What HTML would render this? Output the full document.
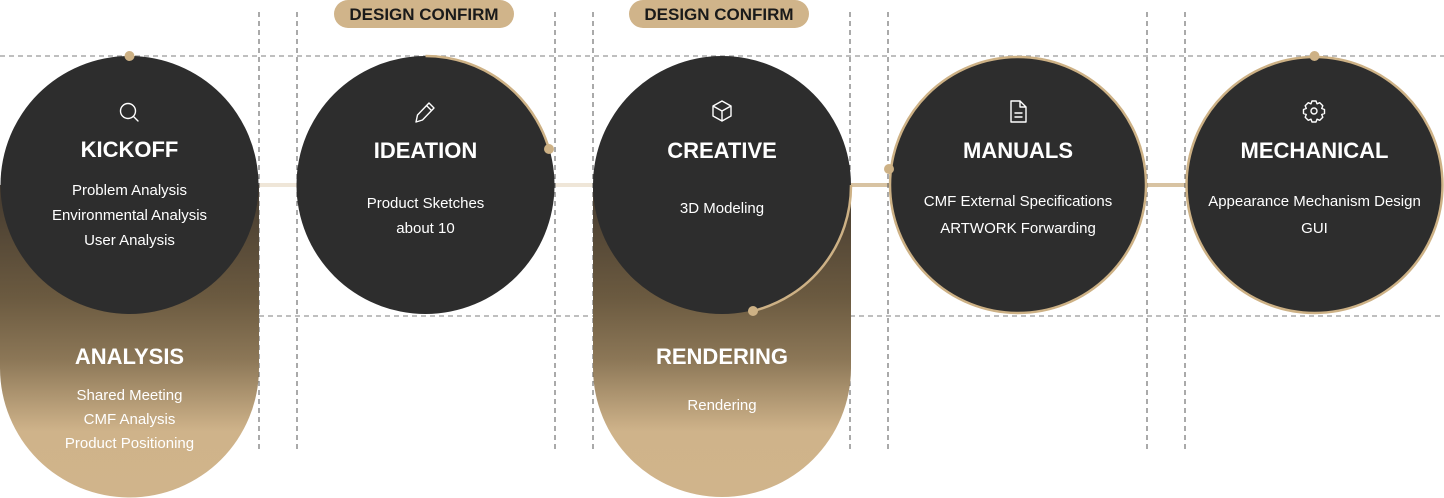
<!DOCTYPE html>
<html><head><meta charset="utf-8"><style>
html,body{margin:0;padding:0;background:#fff;}
svg{display:block;font-family:"Liberation Sans",sans-serif;}
.t{fill:#fff;font-weight:bold;font-size:22px;text-anchor:middle;}
.s{fill:#fff;font-size:15px;text-anchor:middle;}
.p{fill:#1a1a1a;font-size:17px;font-weight:bold;text-anchor:middle;}
.ic{fill:none;stroke:#fff;stroke-width:1.4;stroke-linejoin:round;stroke-linecap:round;}
</style></head><body>
<svg width="1444" height="498" viewBox="0 0 1444 498">
<defs>
<linearGradient id="g" gradientUnits="userSpaceOnUse" x1="0" y1="185" x2="0" y2="497">
<stop offset="0" stop-color="#443a2f"/>
<stop offset="0.36" stop-color="#6b5a40"/>
<stop offset="0.56" stop-color="#8c7757"/>
<stop offset="0.79" stop-color="#cfb38a"/>
<stop offset="1" stop-color="#d0b48b"/>
</linearGradient>
</defs>
<line x1="259" y1="185" x2="593" y2="185" stroke="#efe6d8" stroke-width="4"/>
<line x1="850" y1="185" x2="1187" y2="185" stroke="#d8c3a2" stroke-width="4"/>
<g stroke="#999" stroke-width="1.3" stroke-dasharray="5,4">
<line x1="0" y1="56" x2="1444" y2="56"/>
<line x1="259" y1="316" x2="593" y2="316"/>
<line x1="850" y1="316" x2="1444" y2="316"/>
</g>
<g stroke="#555" stroke-width="1" stroke-dasharray="5,4">
<line x1="259" y1="12" x2="259" y2="452"/><line x1="297" y1="12" x2="297" y2="452"/>
<line x1="555" y1="12" x2="555" y2="452"/><line x1="593" y1="12" x2="593" y2="452"/>
<line x1="850" y1="12" x2="850" y2="452"/><line x1="888" y1="12" x2="888" y2="452"/>
<line x1="1147" y1="12" x2="1147" y2="452"/><line x1="1185" y1="12" x2="1185" y2="452"/>
</g>
<path d="M0 185 H259 V368 A129.5 129.5 0 0 1 0 368 Z" fill="url(#g)"/>
<path d="M593 185 H851 V368 A129 129 0 0 1 593 368 Z" fill="url(#g)"/>
<circle cx="129.5" cy="185" r="129" fill="#2d2d2d"/>
<circle cx="425.5" cy="185" r="129" fill="#2d2d2d"/>
<circle cx="722" cy="185" r="129" fill="#2d2d2d"/>
<circle cx="1018" cy="185" r="128" fill="#2d2d2d" stroke="#cdb185" stroke-width="2.5"/>
<circle cx="1314.5" cy="185" r="128" fill="#2d2d2d" stroke="#cdb185" stroke-width="2.5"/>
<path d="M425.5 56 A129 129 0 0 1 549 149" fill="none" stroke="#cdb185" stroke-width="2.5"/>
<path d="M851 185 A129 129 0 0 1 753 311" fill="none" stroke="#cdb185" stroke-width="2.5"/>
<g fill="#cdb185">
<circle cx="129.5" cy="56" r="5"/><circle cx="549" cy="149" r="5"/>
<circle cx="753" cy="311" r="5"/><circle cx="889" cy="169" r="5"/>
<circle cx="1314.5" cy="56" r="5"/>
</g>
<rect x="334" y="0" width="180" height="28" rx="14" fill="#d0b48a"/>
<text class="p" x="424" y="20">DESIGN CONFIRM</text>
<rect x="629" y="0" width="180" height="28" rx="14" fill="#d0b48a"/>
<text class="p" x="719" y="20">DESIGN CONFIRM</text>
<g class="ic">
<circle cx="128" cy="111" r="7.5"/><line x1="133.5" y1="116.5" x2="138" y2="121"/>
<path d="M416 122 L417.5 115 L429 103 L434 108 L422.5 120 Z M426.5 105.5 L431.5 110.5"/>
<path d="M722 101 L731 106 V116 L722 121 L713 116 V106 Z M713 106 L722 111 L731 106 M722 111 V121"/>
<path d="M1011 101 H1020 L1026 107 V122 H1011 Z M1020 101 V107 H1026 M1015 113 H1022 M1015 117 H1022"/>
<circle cx="1314" cy="111" r="3"/>
<path d="M1312 101 h4 l1 2.8 l2.8 -1.1 l3 3 l-1.1 2.8 l2.8 1 v4 l-2.8 1 l1.1 2.8 l-3 3 l-2.8 -1.1 l-1 2.8 h-4 l-1 -2.8 l-2.8 1.1 l-3 -3 l1.1 -2.8 l-2.8 -1 v-4 l2.8 -1 l-1.1 -2.8 l3 -3 l2.8 1.1 Z"/>
</g>
<text class="t" x="129.5" y="157">KICKOFF</text>
<text class="s" x="129.5" y="195">Problem Analysis</text>
<text class="s" x="129.5" y="220">Environmental Analysis</text>
<text class="s" x="129.5" y="245">User Analysis</text>
<text class="t" x="129.5" y="364">ANALYSIS</text>
<text class="s" x="129.5" y="400">Shared Meeting</text>
<text class="s" x="129.5" y="424">CMF Analysis</text>
<text class="s" x="129.5" y="448">Product Positioning</text>
<text class="t" x="425.5" y="158">IDEATION</text>
<text class="s" x="425.5" y="208">Product Sketches</text>
<text class="s" x="425.5" y="233">about 10</text>
<text class="t" x="722" y="158">CREATIVE</text>
<text class="s" x="722" y="213">3D Modeling</text>
<text class="t" x="722" y="364">RENDERING</text>
<text class="s" x="722" y="410">Rendering</text>
<text class="t" x="1018" y="158">MANUALS</text>
<text class="s" x="1018" y="206">CMF External Specifications</text>
<text class="s" x="1018" y="233">ARTWORK Forwarding</text>
<text class="t" x="1314.5" y="158">MECHANICAL</text>
<text class="s" x="1314.5" y="206">Appearance Mechanism Design</text>
<text class="s" x="1314.5" y="233">GUI</text>
</svg>
</body></html>
